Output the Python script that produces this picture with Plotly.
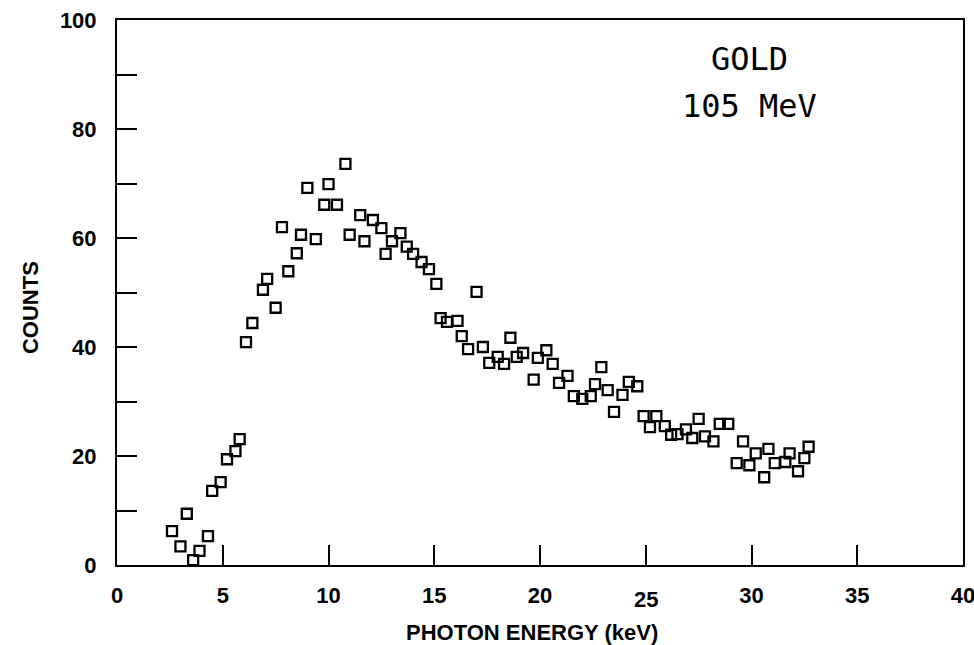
import plotly.graph_objects as go

# Photon spectrum, gold target at 105 MeV
energy_kev = [
    2.6, 3.0, 3.3, 3.6, 3.9, 4.3, 4.5, 4.9, 5.2, 5.6, 5.8,
    6.1, 6.4, 6.9, 7.1, 7.5, 7.8, 8.1, 8.5, 8.7, 9.0, 9.4,
    9.8, 10.0, 10.4, 10.8, 11.0, 11.5, 11.7, 12.1, 12.5, 12.7,
    13.0, 13.4, 13.7, 14.0, 14.4, 14.75, 15.1, 15.3, 15.6, 16.1,
    16.3, 16.6, 17.0, 17.3, 17.6, 18.0, 18.3, 18.6, 18.9, 19.2,
    19.7, 19.9, 20.3, 20.6, 20.9, 21.3, 21.6, 22.0, 22.4, 22.6,
    22.9, 23.2, 23.5, 23.9, 24.2, 24.6, 24.9, 25.2, 25.5, 25.9,
    26.2, 26.5, 26.9, 27.2, 27.5, 27.8, 28.2, 28.5, 28.9, 29.3,
    29.6, 29.9, 30.2, 30.6, 30.8, 31.1, 31.6, 31.8, 32.2, 32.5,
    32.7,
]
counts = [
    6.2, 3.4, 9.4, 0.9, 2.6, 5.3, 13.6, 15.2, 19.4, 20.9, 23.1,
    40.9, 44.4, 50.5, 52.5, 47.2, 62.0, 53.9, 57.2, 60.6, 69.2, 59.8,
    66.1, 69.9, 66.1, 73.6, 60.6, 64.2, 59.4, 63.3, 61.8, 57.1,
    59.4, 60.9, 58.4, 57.1, 55.6, 54.3, 51.6, 45.3, 44.6, 44.8,
    42.0, 39.6, 50.1, 40.0, 37.1, 38.2, 36.9, 41.7, 38.2, 38.9,
    34.0, 38.0, 39.4, 36.9, 33.4, 34.7, 31.0, 30.5, 31.0, 33.2,
    36.3, 32.1, 28.1, 31.2, 33.6, 32.8, 27.3, 25.3, 27.3, 25.5,
    23.9, 24.0, 24.9, 23.3, 26.8, 23.6, 22.7, 25.9, 25.9, 18.7,
    22.7, 18.3, 20.5, 16.1, 21.3, 18.7, 18.9, 20.5, 17.2, 19.6,
    21.7,
]

x_ticks = [0, 5, 10, 15, 20, 25, 30, 35, 40]
y_ticks = list(range(0, 101, 10))
y_labels = [str(v) if v % 20 == 0 else "" for v in y_ticks]

SANS = "Liberation Sans, Arial, sans-serif"
MONO = "DejaVu Sans Mono, monospace"
label_font = dict(family=SANS, size=22, color="black")
title_font = dict(family=SANS, size=22, color="black")

# the "25" label sits a little lower than its neighbours
x_text = ["" if v == 25 else f"<b>{v}</b>" for v in x_ticks]

fig = go.Figure()
fig.add_trace(go.Scatter(
    x=energy_kev, y=counts, mode="markers",
    marker=dict(symbol="square-open", size=10, color="black",
                line=dict(width=2.3, color="black")),
    showlegend=False,
))

fig.add_annotation(x=29.9, y=92.8, xref="x", yref="y", text="GOLD",
                   showarrow=False, font=dict(family=MONO, size=32, color="black"))
fig.add_annotation(x=29.9, y=84.3, xref="x", yref="y", text="105 MeV",
                   showarrow=False, font=dict(family=MONO, size=32, color="black"))

fig.add_annotation(x=25, y=-0.064, xref="x", yref="paper", yanchor="middle",
                   text="<b>25</b>", showarrow=False, font=label_font)

# axis titles
fig.add_annotation(x=0.491, y=-0.124, xref="paper", yref="paper",
                   yanchor="middle", text="<b>PHOTON ENERGY (keV)</b>",
                   showarrow=False, font=title_font)
fig.add_annotation(x=-0.103, y=0.473, xref="paper", yref="paper",
                   xanchor="center", yanchor="middle", textangle=-90,
                   text="<b>COUNTS</b>", showarrow=False, font=title_font)

fig.update_xaxes(
    range=[0, 40], tickvals=x_ticks, ticktext=x_text,
    ticks="inside", ticklen=20, tickwidth=2, tickcolor="black",
    showline=True, linewidth=2, linecolor="black", mirror=True,
    showgrid=False, zeroline=False, automargin=False,
    tickfont=label_font, ticklabelstandoff=10, ticklabeloverflow="allow",
)
fig.update_yaxes(
    range=[0, 100], tickvals=y_ticks,
    ticktext=[f"<b>{t}</b>" if t else "" for t in y_labels],
    ticks="inside", ticklen=20, tickwidth=2, tickcolor="black",
    showline=True, linewidth=2, linecolor="black", mirror=True,
    showgrid=False, zeroline=False, automargin=False,
    tickfont=label_font, ticklabelstandoff=14, ticklabeloverflow="allow",
)
fig.update_layout(
    width=974, height=645,
    margin=dict(l=117, r=11, t=20, b=80),
    plot_bgcolor="white", paper_bgcolor="white",
    font=dict(family=SANS, color="black"),
)

fig.write_html("out.html")
